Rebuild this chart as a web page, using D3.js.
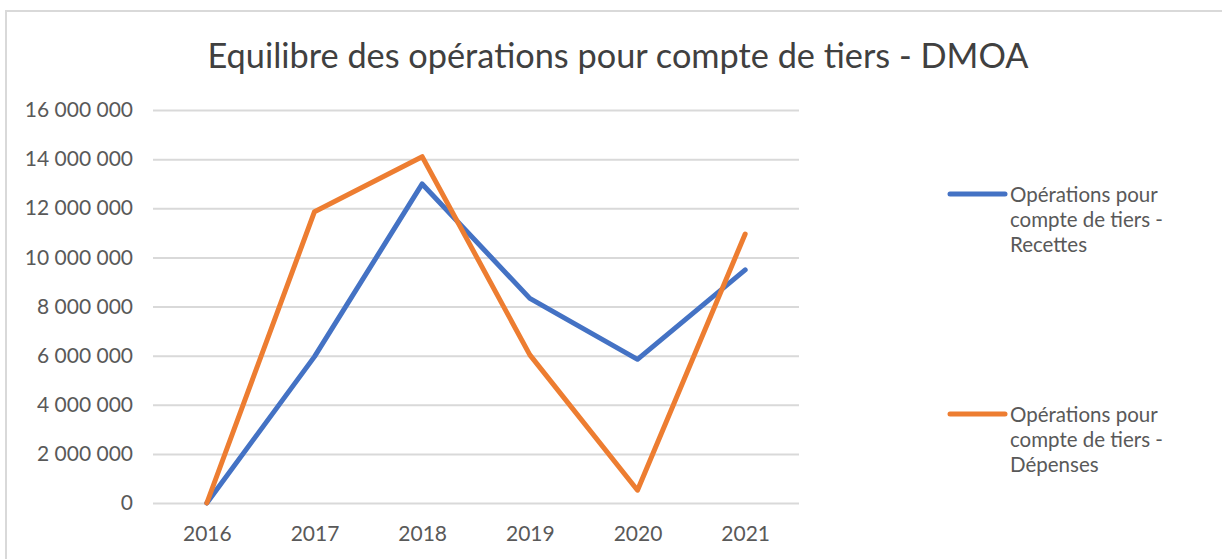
<!DOCTYPE html>
<html>
<head>
<meta charset="utf-8">
<script src="https://cdn.jsdelivr.net/npm/d3@7"></script>
<style>
  html, body { margin: 0; padding: 0; background: #fff; }
  svg { display: block; font-family: Lato, "Open Sans", sans-serif; }
</style>
</head>
<body>
<script>
// Chart data
const years = ['2016', '2017', '2018', '2019', '2020', '2021'];
const recettes = [0, 5960000, 12990000, 8330000, 5850000, 9490000];
const depenses = [0, 11860000, 14100000, 6030000, 520000, 10950000];
const yTicks = [0, 2000000, 4000000, 6000000, 8000000, 10000000, 12000000, 14000000, 16000000];
const seriesNames = [
  ['Opérations pour', 'compte de tiers -', 'Recettes'],
  ['Opérations pour', 'compte de tiers -', 'Dépenses']
];
const title = 'Equilibre des opérations pour compte de tiers - DMOA';

const colors = ['#4472C4', '#ED7D31'];
const textColor = '#595959';
const gridColor = '#d9d9d9';

const width = 1222;
const height = 559;
const plot = { left: 153, right: 799, top: 110, bottom: 503 };

const svg = d3
  .select('body')
  .append('svg')
  .attr('width', width)
  .attr('height', height);

// Chart frame (runs off the right and bottom edges)
svg
  .append('rect')
  .attr('x', 6)
  .attr('y', 11)
  .attr('width', 1400)
  .attr('height', 700)
  .attr('fill', 'none')
  .attr('stroke', gridColor)
  .attr('stroke-width', 2);

// Scales
const xScale = d3.scalePoint().domain(years).range([plot.left, plot.right]).padding(0.5);
const yScale = d3.scaleLinear().domain([0, 16000000]).range([plot.bottom, plot.top]);

const fr = d3.formatLocale({ decimal: ',', thousands: ' ', grouping: [3], currency: ['', ' €'] });
const fmt = fr.format(',d');

// Y axis with gridlines
const yAxis = d3
  .axisLeft(yScale)
  .tickValues(yTicks)
  .tickFormat(fmt)
  .tickSize(-(plot.right - plot.left))
  .tickPadding(20);

svg
  .append('g')
  .attr('class', 'y-axis')
  .attr('transform', `translate(${plot.left}, 0)`)
  .call(yAxis)
  .call((g) => g.select('.domain').remove())
  .call((g) => g.selectAll('line').attr('stroke', gridColor).attr('stroke-width', 2))
  .call((g) =>
    g.selectAll('text')
      .attr('fill', textColor)
      .style('font-size', '21px')
      .style('font-family', 'Lato, "Open Sans", sans-serif')
  );

// X axis
const xAxis = d3.axisBottom(xScale).tickSize(0).tickPadding(23);

svg
  .append('g')
  .attr('class', 'x-axis')
  .attr('transform', `translate(0, ${plot.bottom})`)
  .call(xAxis)
  .call((g) => g.select('.domain').remove())
  .call((g) =>
    g.selectAll('text')
      .attr('fill', textColor)
      .style('font-size', '21px')
      .style('font-family', 'Lato, "Open Sans", sans-serif')
  );

// Lines
const line = d3
  .line()
  .x((d, i) => xScale(years[i]))
  .y((d) => yScale(d));

[recettes, depenses].forEach((values, i) => {
  svg
    .append('path')
    .datum(values)
    .attr('d', line)
    .attr('fill', 'none')
    .attr('stroke', colors[i])
    .attr('stroke-width', 5)
    .attr('stroke-linejoin', 'round')
    .attr('stroke-linecap', 'round');
});

// Title
svg
  .append('text')
  .attr('x', 618)
  .attr('y', 68)
  .attr('text-anchor', 'middle')
  .attr('fill', '#404040')
  .style('font-size', '34.3px')
  .text(title);

// Legend
seriesNames.forEach((lines, i) => {
  const top = 194 + i * 220;
  const g = svg.append('g').attr('transform', `translate(0, ${top})`);
  g.append('line')
    .attr('x1', 950)
    .attr('x2', 1005)
    .attr('y1', 0)
    .attr('y2', 0)
    .attr('stroke', colors[i])
    .attr('stroke-width', 5)
    .attr('stroke-linecap', 'round');
  g.selectAll('text')
    .data(lines)
    .enter()
    .append('text')
    .attr('x', 1010)
    .attr('y', (d, j) => 7.5 + j * 25)
    .attr('fill', textColor)
    .style('font-size', '20.5px')
    .text((d) => d);
});
</script>
</body>
</html>
